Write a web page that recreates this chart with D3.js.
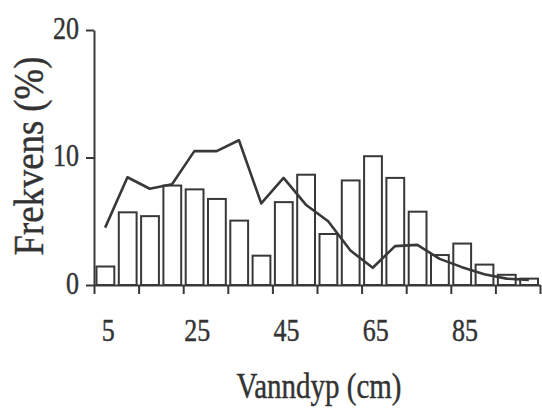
<!DOCTYPE html>
<html>
<head>
<meta charset="utf-8">
<script src="https://cdn.jsdelivr.net/npm/d3@7"></script>
<style>
  body { margin: 0; background: #fff; }
  text { font-family: "Liberation Serif", "DejaVu Serif", serif; fill: #333; stroke: #333; stroke-width: 0.35px; }
</style>
</head>
<body>
<div id="chart"></div>
<script>
// Vanndyp histogram (bars) + frekvenslinje

const depths = [5, 10, 15, 20, 25, 30, 35, 40, 45, 50, 55, 60, 65, 70, 75, 80, 85, 90, 95, 100];
const barValues = [1.45, 5.7, 5.4, 7.8, 7.5, 6.75, 5.05, 2.3, 6.5, 8.65, 4.0, 8.2, 10.1, 8.4, 5.75, 2.35, 3.25, 1.6, 0.8, 0.5];
const lineValues = [4.5, 8.45, 7.55, 7.9, 10.5, 10.5, 11.35, 6.4, 8.4, 6.3, 5.0, 2.7, 1.35, 3.05, 3.15, 2.05, 1.4, 0.85, 0.5, 0.4];
const yTicks = [0, 10, 20];
const xLabels = [5, 25, 45, 65, 85];
const xTickPos = [2.5, 12.5, 22.5, 32.5, 42.5, 52.5, 62.5, 72.5, 82.5, 92.5, 102.5];

const W = 542, H = 410;
const ink = "#383838";
const stretch = 1.22; // tallene er høyere enn brede i originalen

const svg = d3.select("#chart")
  .append("svg")
    .attr("width", W)
    .attr("height", H);

const x = d3.scaleLinear().domain([2.5, 102.5]).range([94, 540]);
const y = d3.scaleLinear().domain([0, 20]).range([285, 30]);

// Søyler
svg.selectAll("rect.bar")
  .data(depths)
  .enter().append("rect")
    .attr("class", "bar")
    .attr("x", (d) => x(d - 2.5) + 2.5)
    .attr("y", (d, i) => y(barValues[i]))
    .attr("width", (d) => x(d + 2.5) - x(d - 2.5) - 4.5)
    .attr("height", (d, i) => y(0) - y(barValues[i]))
    .attr("fill", "#fff")
    .attr("stroke", ink)
    .attr("stroke-width", 2);

// Linje
const line = d3.line()
  .x((d) => x(d))
  .y((d, i) => y(lineValues[i]));

svg.append("path")
  .datum(depths)
  .attr("d", line)
  .attr("fill", "none")
  .attr("stroke", ink)
  .attr("stroke-width", 2.6)
  .attr("stroke-linejoin", "round");

// Akser
const xAxis = svg.append("g")
  .attr("transform", `translate(0,${y(0)})`)
  .call(d3.axisBottom(x).tickValues(xTickPos).tickSize(9).tickSizeOuter(0).tickFormat(() => ""));

const yAxis = svg.append("g")
  .attr("transform", `translate(${x(2.5)},0)`)
  .call(d3.axisLeft(y).tickValues(yTicks).tickSize(8).tickSizeOuter(0).tickPadding(7));

[xAxis, yAxis].forEach((g) => {
  g.select(".domain").attr("stroke", ink).attr("stroke-width", 2);
  g.selectAll(".tick line").attr("stroke", ink).attr("stroke-width", 2);
});

yAxis.selectAll(".tick text")
  .attr("font-size", "26px")
  .attr("fill", "#333")
  .attr("font-family", "Liberation Serif")
  .attr("transform", `translate(0,-2) scale(1,${stretch})`);

// X-etiketter (midt på første søyle i hver 20 cm)
svg.selectAll("text.xlab")
  .data(xLabels)
  .enter().append("text")
    .attr("class", "xlab")
    .attr("text-anchor", "middle")
    .attr("font-size", "26px")
    .attr("transform", (d) => `translate(${x(d) + 3},341) scale(1,${stretch})`)
    .text((d) => d);

// Aksetitler
svg.append("text")
  .attr("text-anchor", "middle")
  .attr("font-size", "29px")
  .attr("transform", "translate(319,398) scale(1,1.2)")
  .text("Vanndyp (cm)");

svg.append("text")
  .attr("text-anchor", "middle")
  .attr("font-size", "36px")
  .attr("transform", "translate(43,156) scale(1.2,1.02) rotate(-90)")
  .text("Frekvens (%)");
</script>
</body>
</html>
